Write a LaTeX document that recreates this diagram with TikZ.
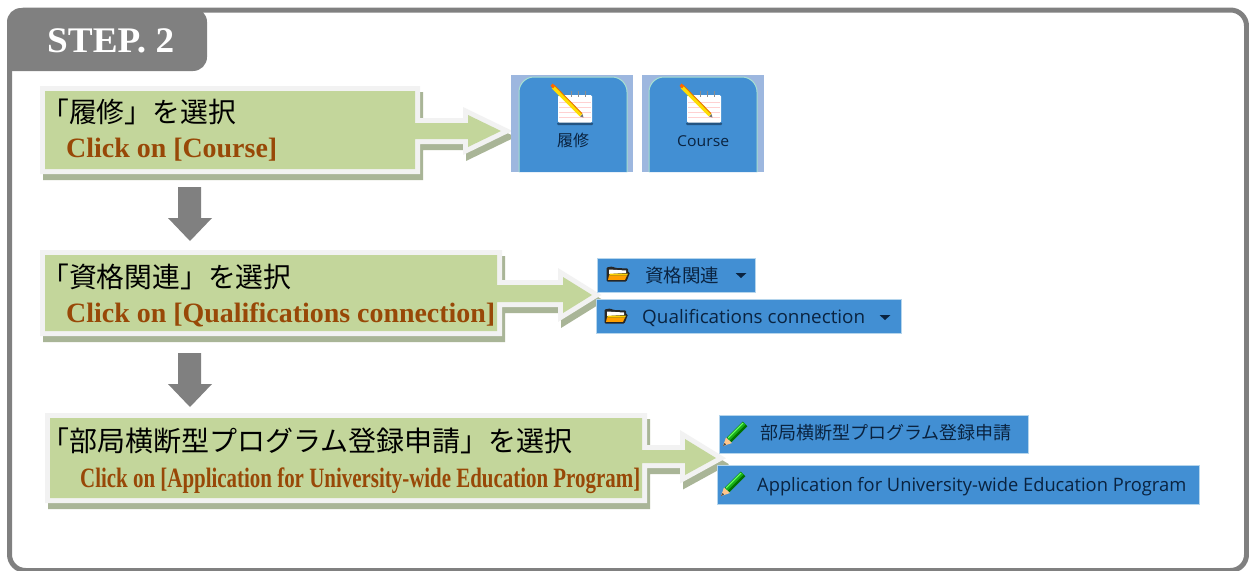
\documentclass[tikz,border=0pt]{standalone}
\usepackage{fontspec}
\setmainfont{Liberation Serif}
\newfontfamily\cjkfont{Noto Sans CJK JP}
\newfontfamily\uifont{Open Sans}
\definecolor{framegray}{HTML}{808080}
\definecolor{callfill}{HTML}{C3D69B}
\definecolor{callrim}{HTML}{F2F2F2}
\definecolor{callshadow}{HTML}{A9B597}
\definecolor{clicktext}{HTML}{984807}
\definecolor{barblue}{HTML}{428FD3}
\definecolor{barrim}{HTML}{B5D5EC}
\definecolor{paneblue}{HTML}{9DB7DF}
\definecolor{tabrim}{HTML}{A8E0D0}
\definecolor{uitext}{HTML}{0A2340}
\newcommand{\callout}[1]{%
  \draw[callshadow,line width=10pt,miter limit=10,shift={(3,6)}] #1 -- cycle;
  \draw[callrim,line width=10pt,miter limit=10] #1 -- cycle;
  \fill[callfill] #1 -- cycle;}
\tikzset{
  jptext/.style={anchor=base west,inner sep=0pt,font=\cjkfont\fontsize{27.8}{30}\selectfont,text=black},
  clicktxt/.style={anchor=base west,inner sep=0pt,font=\bfseries\fontsize{28}{30}\selectfont,text=clicktext},
  uilabel/.style={anchor=base west,inner sep=0pt,text=uitext},
  downarrow/.style={fill=framegray,draw=none},
  uibar/.style={fill=barblue,draw=barrim,line width=0.7pt},
  notepad/.pic={
    \fill[rounded corners=1.5pt,fill=white] (-15,-13) rectangle (19,15);
    \foreach \yy in {-6,-1,4,9}{\draw[red!18,line width=.5pt] (-14,\yy) -- (18,\yy);}
    \fill[fill=uitext!55!barblue,rounded corners=1pt] (-16,14.5) rectangle (20,17);
    \foreach \xx in {-2,5,12}{\draw[black!45,line width=1pt] (\xx,-17) -- (\xx,-11);}
    \draw[line width=3.6pt,draw=yellow!80!orange] (-20,-21) -- (8,7);
    \draw[line width=.9pt,draw=orange!90!black] (-19,-23) -- (9,5.5);
    \fill[fill=orange!80!red] (-22.5,-22) -- (-20.5,-24.5) -- (-18,-22) -- (-20,-19.5) -- cycle;
    \fill[fill=black!55] (7,8.5) -- (10.5,9.5) -- (9.5,6) -- cycle;
  },
  folder/.pic={
    \fill[fill=black!85,rounded corners=1pt] (-11.5,-6.5) -- (-6,-7.5) -- (-2,-6) -- (10,-5.5) -- (10,-1.5) -- (12,-1.5) -- (8.5,7.5) -- (-11.5,7.5) -- cycle;
    \fill[fill=white] (-9,-4.5) -- (8,-3.5) -- (8,-1) -- (-9,0) -- cycle;
    \fill[fill=yellow!70!orange] (-8,-0.5) -- (10,-.5) -- (9,1.5) -- (-9,1.5) -- cycle;
    \fill[fill=orange!75!yellow] (-9,1.5) -- (9,1.5) -- (7,5.8) -- (-10,5.8) -- cycle;
  },
  greenpencil/.pic={
    \draw[line width=6.5pt,draw=green!45!black] (10,-10) -- (-6,6);
    \draw[line width=3pt,draw=green!65!black!90!white] (9.5,-10.5) -- (-6.5,5.5);
    \draw[line width=1.2pt,draw=green!60!white] (8,-11) -- (-7,4);
    \fill[fill=orange!45!white] (-9,3.5) -- (-3,9) -- (-12,12) -- cycle;
    \fill[fill=black!70] (-10.5,9) -- (-9,10.5) -- (-12,12) -- cycle;
  },
}
\begin{document}
\begin{tikzpicture}[x=1pt,y=-1pt]
\useasboundingbox (0,0) rectangle (1249,570);
\fill[white] (0,0) rectangle (1249,570);
\clip (0,0) rectangle (1249,570);
% outer frame and tab
\draw[framegray,line width=5pt,rounded corners=16pt] (9.5,10) rectangle (1246.5,570.5);
\fill[framegray] (7,71) -- (7,22) arc[start angle=180,end angle=270,radius=14] -- (193,8) arc[start angle=270,end angle=360,radius=14] -- (207,57) arc[start angle=0,end angle=90,radius=14] -- cycle;
\node[anchor=base west,inner sep=0pt,text=white,font=\bfseries\fontsize{36}{38}\selectfont] (steplabel) at (47,52) {\resizebox{127pt}{\height}{STEP. 2}};
% callouts
\callout{(45,91) -- (415,91) -- (415,123) -- (468,123) -- (468,115) -- (501,131) -- (468,147) -- (468,139) -- (415,139) -- (415,169) -- (45,169)}
\callout{(45,255) -- (497,255) -- (497,285) -- (563,285) -- (563,277) -- (592,295) -- (563,313) -- (563,302) -- (497,302) -- (497,331) -- (45,331)}
\callout{(50,418) -- (642,418) -- (642,450) -- (685,450) -- (685,439) -- (716,458) -- (685,475) -- (685,463) -- (642,463) -- (642,498) -- (50,498)}
% callout texts
\node[jptext] (t1a) at (41,122) {「履修」を選択};
\node[clicktxt] (t1b) at (66,157) {\resizebox{211pt}{\height}{Click on [Course]}};
\node[jptext] (t2a) at (41,287) {「資格関連」を選択};
\node[clicktxt] (t2b) at (66,322) {\resizebox{429pt}{\height}{Click on [Qualifications connection]}};
\node[jptext,font=\cjkfont\fontsize{28}{30}\selectfont] (t3a) at (41,451) {「部局横断型プログラム登録申請」を選択};
\node[clicktxt] (t3b) at (80,487) {\resizebox{560pt}{\height}{Click on [Application for University-wide Education Program]}};
% down arrows
\fill[downarrow] (178,187) -- (201,187) -- (201,218) -- (212,218) -- (190,241) -- (168,218) -- (178,218) -- cycle;
\fill[downarrow] (178,353) -- (201,353) -- (201,384) -- (212,384) -- (190,407) -- (168,384) -- (178,384) -- cycle;
% course panels
\fill[paneblue] (511,75) rectangle (633,172);
\fill[paneblue] (642,75) rectangle (764,172);
\draw[fill=barblue,draw=tabrim,line width=1pt] (519,172) -- (519,92) arc[start angle=180,end angle=270,radius=15] -- (612,77) arc[start angle=270,end angle=360,radius=15] -- (627,172);
\draw[fill=barblue,draw=tabrim,line width=1pt] (649,172) -- (649,92) arc[start angle=180,end angle=270,radius=15] -- (742,77) arc[start angle=270,end angle=360,radius=15] -- (757,172);
\pic at (573,108) {notepad};
\pic at (702,108) {notepad};
\node[uilabel,font=\cjkfont\fontsize{16}{18}\selectfont] (c1) at (557,146) {履修};
\node[uilabel,font=\uifont\fontsize{15}{17}\selectfont] (c2) at (677,146) {\resizebox{52pt}{\height}{Course}};
% qualification bars
\fill[uibar] (597,258) rectangle (755,292);
\fill[uibar] (596,299) rectangle (901,333);
\pic at (618,274) {folder};
\pic at (616,316) {folder};
\node[uilabel,font=\cjkfont\fontsize{18.5}{20}\selectfont] (q1) at (645,282) {資格関連};
\node[uilabel,font=\uifont\fontsize{18.5}{20}\selectfont] (q2) at (642,323) {\resizebox{223pt}{\height}{Qualifications connection}};
\fill[uitext] (735.5,273) -- (746.5,273) -- (741,278) -- cycle;
\fill[uitext] (879.5,315) -- (890.5,315) -- (885,320) -- cycle;
% application bars
\fill[uibar] (719,415) rectangle (1028,453);
\fill[uibar] (717,465) rectangle (1199,504);
\pic at (735,434) {greenpencil};
\pic at (733,484) {greenpencil};
\node[uilabel,font=\cjkfont\fontsize{18}{20}\selectfont] (a1) at (760,439) {部局横断型プログラム登録申請};
\node[uilabel,font=\uifont\fontsize{18.5}{20}\selectfont] (a2) at (757,491) {\resizebox{429pt}{\height}{Application for University-wide Education Program}};
\end{tikzpicture}
\end{document}
